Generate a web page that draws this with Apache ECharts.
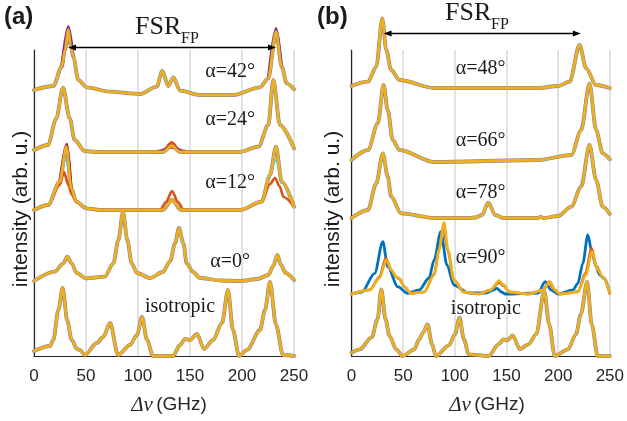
<!DOCTYPE html>
<html><head><meta charset="utf-8">
<script src="https://cdn.jsdelivr.net/npm/echarts@6/dist/echarts.min.js"></script>
<style>html,body{margin:0;padding:0;background:#fff}#c{width:627px;height:421px}</style>
</head><body><div id="c"></div><script>
// ---- tick labels ----
const xTicks = [0, 50, 100, 150, 200, 250];
// ---- panel (a) traces: [GHz, intensity] ----
const a42 = [[0,0.5],[18.6,0.9],[26.6,2.83],[29.8,4.5],[33.0,6.57],[35.1,5.0],[37.8,3.83],[42.6,1.5],[50.7,0.77],[73.1,0.33],[101.9,0.1],[118,0.83],[123.4,2.4],[129.1,0.9],[134,1.77],[140.4,0.43],[159.6,0],[191.3,0],[217.3,0.77],[225.3,1.67],[232.7,6.33],[238.2,2.83],[243,1.17],[250,0.57]];
const a42PurpleL = [[26.6,2.83],[33,6.85],[37.8,3.83]];
const a42PurpleR = [[225.3,1.67],[232.7,6.65],[238.2,2.83]];
const a24 = [[0,0.2],[13.5,0.7],[21.4,3.37],[27.9,6.43],[34.3,3.37],[39.1,1.2],[48.8,0.1],[60,0],[124,0],[132.4,0.6],[140.4,0],[198,0],[215.7,0.53],[225.3,2.7],[230.1,7.2],[236.5,2.7],[250,0.37]];
const a24Red = [[116,0],[124,0.15],[132.4,0.95],[140.4,0.15],[148,0]];
const a24Purple = [[120,0],[132.4,0.45],[144,0]];
const a12 = [[0,0],[13.5,0.5],[24.7,2.83],[31.1,6.33],[35.9,2.17],[40.7,0.83],[50.3,0.17],[63.5,0],[124,0],[132.7,1.0],[141.3,0],[198,0],[218.9,0.83],[226.9,3.5],[232.7,6.33],[238.2,2.83],[250,0.33]];
const a12Red = [[0,0],[13.5,0.5],[24.7,2.5],[28.8,3.83],[33,2.5],[36.5,1.5],[40.7,0.8],[50.3,0.17],[63.5,0],[121,0],[127,0.8],[132.7,1.9],[138.5,0.8],[144,0],[198,0],[218.9,0.8],[226.9,2.6],[231.7,3.2],[236,2.4],[240,1.3],[250,0.33]];
const a12DarkRed = [[24.7,2.83],[31.7,6.6],[35.9,2.17]];
const a12BlueL = [[24.7,2.7],[30.5,5.0],[35,2.3]];
const a12BlueR = [[226.9,3.3],[232.2,5.0],[238,2.7]];
const a0 = [[0,0],[19.9,0.93],[28.2,1.77],[32,2.43],[36.2,1.77],[41,0.8],[50.3,0.27],[68,0.43],[76.3,1.77],[81.1,4.1],[85.6,6.9],[89.7,4.1],[93.9,1.77],[99,0.8],[111.5,0.3],[124,0.9],[131,2.0],[135.6,3.77],[139.4,5.3],[143.6,3.77],[146.8,1.77],[152.9,0.9],[159.6,0.3],[180,0.05],[198,0],[215,0.2],[225.3,0.6],[230,1.5],[234,2.6],[237.5,1.6],[242,0.8],[250,0.1]];
const isoA = [[0,0.5],[15.4,1.0],[18.6,1.6],[23.4,4.6],[27.6,6.8],[32,3.5],[36.3,1.6],[41.3,0.7],[44.2,0.6],[49,0.1],[60.3,1.3],[66.6,1.9],[73.1,3.3],[80.8,0.1],[92.3,1.1],[99,2.1],[103.8,3.9],[108.7,1.6],[114.4,0],[133.7,0],[140.4,1.1],[145.2,1.7],[150,1.6],[156.7,2.2],[163.5,0.7],[172.1,1.6],[180.8,3.3],[186.5,6.6],[191.3,2.6],[197.1,0],[204.8,0.6],[217.3,2.6],[222.1,4.6],[226.9,7.4],[232.7,3.1],[239.4,0.1],[250,0]];
// ---- panel (b) traces ----
const b48 = [[0,0.2],[15.9,0.63],[24,2.13],[29.8,6.97],[33.6,3.8],[38.4,1.8],[46.4,0.8],[80,0],[180.7,0],[200,0.2],[211.1,0.63],[220.7,4.3],[227.1,1.97],[236.7,0.3],[250,0]];
const b66 = [[0,0.2],[15.9,1.2],[25.5,3.87],[31,7.7],[35.1,5.2],[39.9,2.2],[46.4,1.2],[80,0],[180.7,0.2],[212.7,0.7],[222.3,3.2],[230.3,7.87],[236.7,3.2],[243.1,0.87],[250,0.27]];
const b78 = [[0,0],[15.9,0.8],[24,3.47],[30.3,6.47],[35.1,4.13],[38.4,2.13],[48,0.47],[80,0],[113.5,0],[120,0.05],[126.3,0.3],[132.3,1.53],[139.2,0.3],[147,0],[180,0],[183,0.12],[186,0],[200,0.2],[212.7,1.13],[222.3,3.13],[230.3,7.3],[236.7,3.8],[243.1,1.13],[250,0.4]];
const b90Blue = [[0,0],[10,0.2],[22.4,2.07],[30.3,5.23],[35.1,2.73],[44.7,0.73],[54.3,0.07],[65.5,0.4],[75,1.6],[80,3.4],[86.4,6.23],[92.4,2.9],[99.1,0.9],[113.5,0.1],[130,0.1],[137.5,0.4],[140.7,0.57],[145,0.2],[149,0],[180.7,0.1],[187.4,1.23],[193.2,0.4],[200,0],[214.3,0.4],[219.1,1.07],[223.9,3.07],[228.7,5.9],[233,4.0],[236.7,2.73],[240.2,1.9],[244.7,1.57],[250,0.07]];
const b90Red = [[0,0],[17.6,0.4],[27,1.7],[33.2,3.6],[38.5,2.4],[43.2,1.7],[46.4,1.5],[51.2,0.7],[57.6,0.07],[70.3,0.2],[80,2.0],[84.6,4.4],[89,6.7],[93.2,4.3],[99.1,1.4],[108.7,0.2],[123.1,0],[134.6,0.4],[143,1.15],[147.1,0.8],[152.9,0.2],[171.2,0],[185.6,0.4],[191,1.23],[196.5,0.4],[201.8,0],[219.1,0.25],[226.5,2.1],[232.3,4.6],[237,2.8],[243,1.7],[250,0.07]];
const b90 = [[0,0],[17.6,0.4],[27.2,1.6],[33.6,3.4],[38.7,2.4],[43.2,1.73],[46.4,1.57],[51.2,0.73],[57.6,0.07],[70.3,0.2],[80,1.9],[84.8,4.4],[89.5,7.13],[93.4,4.4],[99.1,1.4],[108.7,0.2],[123.1,0],[134.6,0.4],[143,1.33],[147.1,0.9],[152.9,0.2],[171.2,0],[185.6,0.4],[192,1.23],[197.1,0.4],[201.8,0],[219.1,0.2],[226.8,1.9],[232.8,4.23],[237.3,2.6],[243.1,1.73],[250,0.07]];
const isoB = [[0,0.34],[8,0.67],[19.5,1.87],[25.2,3.67],[28.8,6.67],[32.9,3.67],[36.8,2.0],[43.2,0.67],[49.5,0],[60.7,0.67],[65.5,1.67],[69.4,2.37],[73.5,3.17],[78,1.17],[81.6,0],[94.3,1.07],[100,2.17],[104.6,3.84],[108.7,1.67],[113.5,0.17],[132.7,0],[142.3,1.17],[147.1,1.67],[151,1.57],[155.8,2.07],[163.1,0.67],[171.1,1.17],[178.8,2.17],[186.5,6.5],[191.3,3.17],[196.7,0],[209.5,0.67],[217.2,2.17],[222,4.17],[228,7.4],[232.5,3.17],[238.3,0],[250,0]];
// ---- trace labels and vertical offsets ----
const labelsA = ['α=42°', 'α=24°', 'α=12°', 'α=0°', 'isotropic'];
const offsetsA = [26.1, 20.4, 14.6, 7.5, 0];
const labelsB = ['α=48°', 'α=66°', 'α=78°', 'α=90°', 'isotropic'];
const offsetsB = [26.8, 19.4, 13.8, 6.2, 0];
const fsrA = [32.7, 232.7];
const fsrB = [31, 222];

const YEL = '#EDB120', UNDER = '#80809a';
const series = [];
function add(g, pts, off, color, width, z) {
  series.push({type:'line', xAxisIndex:g, yAxisIndex:g, data: pts.map(p => [p[0], p[1] + off]),
    symbol:'none', showSymbol:false, clip:false, silent:true, animation:false, z: z,
    smooth:0.3, smoothMonotone:'x',
    lineStyle:{color: color, width: width, join:'round', cap:'round'}});
}
function std(g, pts, off) { add(g, pts, off, UNDER, 3.8, 2); add(g, pts, off, YEL, 2.8, 5); }
// panel a
add(0, a42PurpleL, offsetsA[0], '#7E2F8E', 2.8, 3); add(0, a42PurpleR, offsetsA[0], '#7E2F8E', 2.8, 3);
std(0, a42, offsetsA[0]);
add(0, a24Red, offsetsA[1], '#D95319', 2.8, 3); add(0, a24Purple, offsetsA[1], '#7E2F8E', 2.6, 3);
std(0, a24, offsetsA[1]);
add(0, a12BlueL, offsetsA[2], '#4DBEEE', 2.2, 3); add(0, a12BlueR, offsetsA[2], '#4DBEEE', 2.2, 3);
add(0, a12DarkRed, offsetsA[2], '#A2142F', 2.6, 3);
add(0, a12Red, offsetsA[2], '#D95319', 2.6, 4);
std(0, a12, offsetsA[2]);
std(0, a0, offsetsA[3]);
std(0, isoA, offsetsA[4]);
// panel b
std(1, b48, offsetsB[0]);
std(1, b66, offsetsB[1]);
std(1, b78, offsetsB[2]);
add(1, b90Blue, offsetsB[3], '#0072BD', 2.8, 3);
add(1, b90Red, offsetsB[3], '#D95319', 2.6, 4);
add(1, b90, offsetsB[3], YEL, 2.8, 5);
std(1, isoB, offsetsB[4]);

const tickFont = {fontSize:17, color:'#262626', fontFamily:'Liberation Sans, Arial, sans-serif', margin:12};
function xAx(g) {
  return {gridIndex:g, type:'value', min:0, max:250, interval:50,
    axisLine:{show:true, lineStyle:{color:'#262626', width:1.2}}, axisTick:{show:false},
    axisLabel:Object.assign({formatter: v => xTicks.includes(v) ? String(v) : ''}, tickFont),
    splitLine:{show:true, lineStyle:{color:'#d9d9d9', width:1.5}}};
}
function yAx(g) {
  return {gridIndex:g, type:'value', min:0, max:30.6,
    axisLine:{show:true, onZero:false, lineStyle:{color:'#262626', width:1.2}}, axisTick:{show:false},
    axisLabel:{show:false}, splitLine:{show:false}};
}
const chart = echarts.init(document.getElementById('c'), null, {renderer:'canvas'});
chart.setOption({
  animation:false, backgroundColor:'#fff',
  grid:[{left:34, top:50, width:260, height:306}, {left:351.5, top:50, width:260.5, height:306}],
  xAxis:[xAx(0), xAx(1)], yAxis:[yAx(0), yAx(1)], series: series
});

// ---- annotations ----
const serif = 'Liberation Serif, Times New Roman, serif';
const sans = 'Liberation Sans, Arial, sans-serif';
const gr = [];
function txt(x, y, text, font, align, vAlign, rot) {
  gr.push({type:'text', x:x, y:y, rotation: rot || 0, z:20, silent:true,
    style:{text:text, font:font, fill:'#1a1a1a', align:align || 'center', verticalAlign:vAlign || 'middle'}});
}
function px(g, x, y) { return chart.convertToPixel({gridIndex:g}, [x, y]); }
const labelPosA = [[188.5, 28.4], [188.5, 23.6], [188.5, 17.3], [188.5, 9.4], [140.4, 4.9]];
const labelPosB = [[125, 28.7], [125, 21.5], [125, 16.3], [125, 9.8], [130, 4.7]];
labelsA.forEach((t, i) => { const p = px(0, labelPosA[i][0], labelPosA[i][1]); txt(p[0], p[1], t, '20px ' + serif); });
labelsB.forEach((t, i) => { const p = px(1, labelPosB[i][0], labelPosB[i][1]); txt(p[0], p[1], t, '20px ' + serif); });
function arrow(g, xs, yv) {
  const p1 = px(g, xs[0], yv), p2 = px(g, xs[1], yv);
  const y = Math.round(p1[1]) + 0.5;
  gr.push({type:'line', z:20, silent:true, shape:{x1:p1[0] + 4, y1:y, x2:p2[0] - 4, y2:y}, style:{stroke:'#000', lineWidth:1.3}});
  gr.push({type:'polygon', z:20, silent:true, shape:{points:[[p1[0], y], [p1[0] + 8, y - 3], [p1[0] + 8, y + 3]]}, style:{fill:'#000'}});
  gr.push({type:'polygon', z:20, silent:true, shape:{points:[[p2[0], y], [p2[0] - 8, y - 3], [p2[0] - 8, y + 3]]}, style:{fill:'#000'}});
}
arrow(0, fsrA, 30.9);
arrow(1, fsrB, 32.3);
// FSR_FP labels
txt(135, 40, 'FSR', '26px ' + serif, 'left', 'bottom');
txt(181, 47, 'FP', '16px ' + serif, 'left', 'bottom');
txt(445, 26, 'FSR', '26px ' + serif, 'left', 'bottom');
txt(491, 33, 'FP', '16px ' + serif, 'left', 'bottom');
// panel tags
txt(4, 17, '(a)', 'bold 24px ' + sans, 'left', 'middle');
txt(317, 17, '(b)', 'bold 24px ' + sans, 'left', 'middle');
// axis titles
function xTitle(cx) {
  gr.push({type:'text', x:cx, y:405, z:20, silent:true,
    style:{text:'{i|Δν} {n|(GHz)}', align:'center', verticalAlign:'middle',
      rich:{i:{font:'italic 21px ' + serif, fill:'#262626'}, n:{font:'19px ' + sans, fill:'#262626'}}}});
}
xTitle(169); xTitle(487);
txt(21, 209, 'intensity (arb. u.)', '21px ' + sans, 'center', 'middle', Math.PI / 2);
txt(333, 209, 'intensity (arb. u.)', '21px ' + sans, 'center', 'middle', Math.PI / 2);
chart.setOption({graphic: gr});
</script></body></html>
